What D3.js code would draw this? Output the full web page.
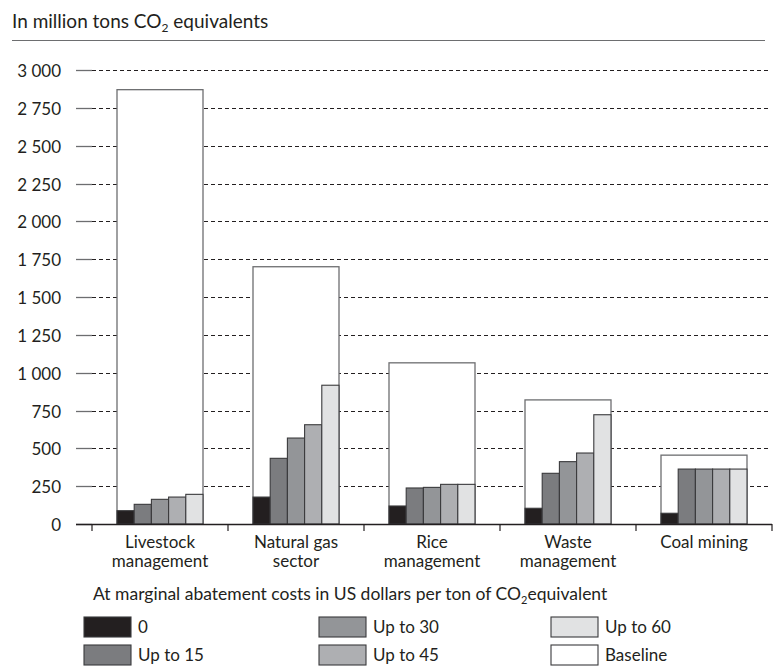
<!DOCTYPE html>
<html><head><meta charset="utf-8">
<script src="https://cdn.jsdelivr.net/npm/d3@7"></script>
<style>
body{margin:0;background:#fff;}
svg text{font-family:Lato,"DejaVu Sans Condensed",sans-serif;fill:#231f20;}
</style></head><body>
<svg id="c" width="781" height="666"></svg>
<script>
const categories = [["Livestock","management"],["Natural gas","sector"],["Rice","management"],["Waste","management"],["Coal mining"]];
const seriesNames = ["0","Up to 15","Up to 30","Up to 45","Up to 60"];
const baseline = [2870, 1700, 1065, 820, 455];
const s0   = [88, 178, 119, 104, 71];
const s15  = [130, 434, 238, 335, 363];
const s30  = [163, 568, 242, 412, 363];
const s45  = [178, 656, 262, 469, 363];
const s60  = [196, 917, 262, 722, 363];
const series = [s0, s15, s30, s45, s60];
const yTicks = [0,250,500,750,1000,1250,1500,1750,2000,2250,2500,2750,3000];
const colors = ["#231f20","#7b7c7f","#939598","#aeafb2","#e1e2e3"];
const legendItems = [["0",colors[0]],["Up to 15",colors[1]],["Up to 30",colors[2]],["Up to 45",colors[3]],["Up to 60",colors[4]],["Baseline","#ffffff"]];

const svg = d3.select("#c");
const fmt = v => d3.format(",")(v).replace(/,/g," ");
const FS = 17;

const x = d3.scaleBand().domain(d3.range(categories.length)).range([92,772]).paddingInner(0).paddingOuter(0);
const y = d3.scaleLinear().domain([0,3000]).range([524,70]);
const inner = d3.scaleBand().domain(d3.range(5)).range([25, x.bandwidth()-25]);

// title
const t = svg.append("text").attr("x",12).attr("y",28).attr("font-size",19);
t.append("tspan").text("In million tons CO");
t.append("tspan").attr("font-size",12).attr("dy",4).text("2");
t.append("tspan").attr("dy",-4).text(" equivalents");
svg.append("line").attr("x1",12).attr("x2",765).attr("y1",40.5).attr("y2",40.5).attr("stroke","#6d6e70").attr("stroke-width",1.2);

// grid
const g = svg.append("g");
yTicks.forEach(v=>{
  const yy = Math.round(y(v))+0.5;
  g.append("line").attr("x1",76).attr("x2",92).attr("y1",yy).attr("y2",yy).attr("stroke","#6d6e70").attr("stroke-width",1.3);
  if(v>0) g.append("line").attr("x1",92).attr("x2",771).attr("y1",yy).attr("y2",yy).attr("stroke","#231f20").attr("stroke-width",1).attr("stroke-dasharray","4,3");
  g.append("text").attr("x",61).attr("y",yy+6).attr("text-anchor","end").attr("font-size",FS).text(fmt(v));
});

// bars
const bars = svg.append("g");
categories.forEach((c,i)=>{
  const bx = x(i);
  bars.append("rect").attr("x",bx+inner(0)).attr("y",y(baseline[i])).attr("width",inner.bandwidth()*5).attr("height",y(0)-y(baseline[i]))
    .attr("fill","#fff").attr("stroke","#6d6e70").attr("stroke-width",1.3);
  series.forEach((s,k)=>{
    bars.append("rect").attr("x",bx+inner(k)).attr("y",y(s[i])).attr("width",inner.bandwidth()).attr("height",y(0)-y(s[i]))
      .attr("fill",colors[k]).attr("stroke","#3a3a3c").attr("stroke-width",1.1);
  });
});

// x axis
svg.append("line").attr("x1",76).attr("x2",772).attr("y1",524.5).attr("y2",524.5).attr("stroke","#231f20").attr("stroke-width",1.5);
d3.range(categories.length+1).forEach(i=>{
  const xx = (i<categories.length? x(i): x.range()[1]) ;
  svg.append("line").attr("x1",xx).attr("x2",xx).attr("y1",524).attr("y2",531).attr("stroke","#231f20").attr("stroke-width",1.2);
});
categories.forEach((c,i)=>{
  const tx = svg.append("text").attr("x",x(i)+x.bandwidth()/2).attr("y",548).attr("text-anchor","middle").attr("font-size",FS);
  c.forEach((l,j)=>tx.append("tspan").attr("x",x(i)+x.bandwidth()/2).attr("dy",j?19:0).text(l));
});

// legend
const lt = svg.append("text").attr("x",93).attr("y",600).attr("font-size",17.5);
lt.append("tspan").text("At marginal abatement costs in US dollars per ton of CO");
lt.append("tspan").attr("font-size",11).attr("dy",4).text("2");
lt.append("tspan").attr("dy",-4).text("equivalent");
const colX = [84,319,551];
const rowY = [617,645];
legendItems.forEach((d,i)=>{
  const col = Math.floor(i/2), row = i%2;
  svg.append("rect").attr("x",colX[col]).attr("y",rowY[row]).attr("width",47).attr("height",20)
    .attr("fill",d[1]).attr("stroke","#3a3a3c").attr("stroke-width",1.1);
  svg.append("text").attr("x",colX[col]+54).attr("y",rowY[row]+16).attr("font-size",FS).text(d[0]);
});
</script></body></html>
